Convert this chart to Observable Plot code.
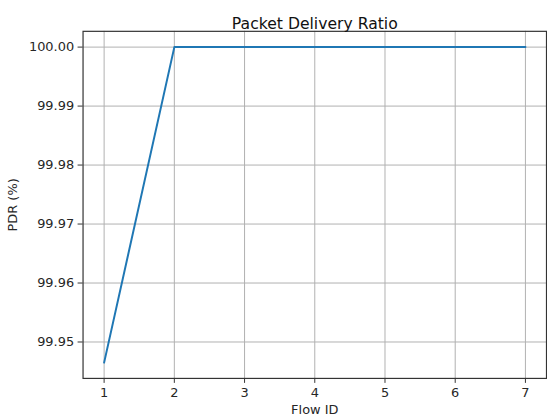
<!DOCTYPE html>
<html><head><meta charset="utf-8">
<script src="https://cdn.jsdelivr.net/npm/d3@7"></script>
<script src="https://cdn.jsdelivr.net/npm/@observablehq/plot@0.6"></script>
<style>
html,body{margin:0;padding:0;background:#fff;overflow:hidden;}
#chart svg text{font-family:'DejaVu Sans',sans-serif;}
#chart svg g[aria-label$="tick label"] text,
#chart svg g[aria-label$="axis label"] text{font-size:13px;}
</style>
</head><body><div id="chart"></div>
<script>
const flowIds = [1, 2, 3, 4, 5, 6, 7];
const pdrValues = [99.9465, 100, 100, 100, 100, 100, 100];
const xTicks = [1, 2, 3, 4, 5, 6, 7];
const yTicks = [99.95, 99.96, 99.97, 99.98, 99.99, 100.00];
const title = "Packet Delivery Ratio";
const xLabel = "Flow ID";
const yLabel = "PDR (%)";

const data = flowIds.map((f, i) => ({flow: f, pdr: pdrValues[i]}));
const pad = 0.05 * (d3.max(pdrValues) - d3.min(pdrValues));
const xpad = 0.05 * (d3.max(flowIds) - d3.min(flowIds));

const chart = Plot.plot({
  width: 550, height: 419,
  marginLeft: 83, marginRight: 1, marginTop: 31, marginBottom: 39,
  style: "font-family: 'DejaVu Sans'; font-size: 13px; color: #262626; background: #fff;",
  x: {domain: [d3.min(flowIds) - xpad, d3.max(flowIds) + xpad]},
  y: {domain: [d3.min(pdrValues) - pad, d3.max(pdrValues) + pad]},
  marks: [
    Plot.gridX(xTicks, {stroke: "#b0b0b0", strokeOpacity: 1, strokeWidth: 1}),
    Plot.gridY(yTicks, {stroke: "#b0b0b0", strokeOpacity: 1, strokeWidth: 1}),
    Plot.axisX(xTicks, {tickSize: 5, tickPadding: 4, stroke: "#333", fontSize: 13, label: xLabel, labelAnchor: "center", labelArrow: "none", labelOffset: 36}),
    Plot.axisY(yTicks, {tickSize: 5, tickPadding: 4, stroke: "#333", fontSize: 13, tickFormat: d3.format(".2f"), label: yLabel, labelAnchor: "center", labelArrow: "none", labelOffset: 76}),
    Plot.frame({stroke: "#333", strokeWidth: 1.2}),
    Plot.line(data, {x: "flow", y: "pdr", stroke: "#1f77b4", strokeWidth: 2}),
    Plot.text([title], {frameAnchor: "top", dy: -13, fontSize: 15.7, fill: "#111"})
  ]
});
document.getElementById("chart").appendChild(chart);
</script>
</body></html>
